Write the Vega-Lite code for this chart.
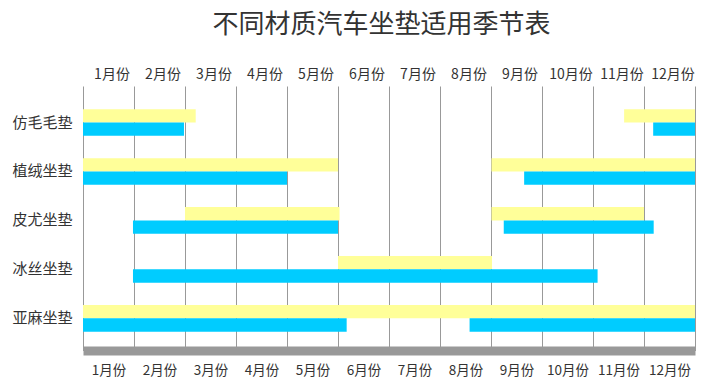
{
  "$schema": "https://vega.github.io/schema/vega-lite/v6.json",
  "width": 612,
  "height": 264.5,
  "autosize": {"type": "none"},
  "padding": {"left": 83, "top": 86, "right": 21, "bottom": 39.5},
  "background": "white",
  "title": {
    "text": "不同材质汽车坐垫适用季节表",
    "font": "Noto Sans CJK SC",
    "fontSize": 26,
    "fontWeight": "normal",
    "color": "#333333",
    "anchor": "middle",
    "dx": -7.5,
    "offset": 29
  },
  "config": {
    "view": {"stroke": null},
    "axis": {"labelFont": "Noto Sans CJK SC", "labelColor": "#333333", "ticks": false, "domain": false, "grid": false, "title": null}
  },
  "data": {
    "values": [
      {"垫": "仿毛毛垫", "类": "黄", "始": 0, "终": 2.21},
      {"垫": "仿毛毛垫", "类": "黄", "始": 10.61, "终": 12},
      {"垫": "仿毛毛垫", "类": "蓝", "始": 0, "终": 1.98},
      {"垫": "仿毛毛垫", "类": "蓝", "始": 11.18, "终": 12},
      {"垫": "植绒坐垫", "类": "黄", "始": 0, "终": 5},
      {"垫": "植绒坐垫", "类": "黄", "始": 8.01, "终": 12},
      {"垫": "植绒坐垫", "类": "蓝", "始": 0, "终": 4},
      {"垫": "植绒坐垫", "类": "蓝", "始": 8.65, "终": 12},
      {"垫": "皮尤坐垫", "类": "黄", "始": 2, "终": 5.03},
      {"垫": "皮尤坐垫", "类": "黄", "始": 8.01, "终": 11},
      {"垫": "皮尤坐垫", "类": "蓝", "始": 0.98, "终": 5},
      {"垫": "皮尤坐垫", "类": "蓝", "始": 8.25, "终": 11.19},
      {"垫": "冰丝坐垫", "类": "黄", "始": 5, "终": 8.02},
      {"垫": "冰丝坐垫", "类": "蓝", "始": 0.98, "终": 10.09},
      {"垫": "亚麻坐垫", "类": "黄", "始": 0, "终": 12},
      {"垫": "亚麻坐垫", "类": "蓝", "始": 0, "终": 5.17},
      {"垫": "亚麻坐垫", "类": "蓝", "始": 7.58, "终": 12}
    ]
  },
  "layer": [
    {
      "mark": {"type": "bar", "cornerRadius": 0},
      "encoding": {
        "x": {
          "field": "始", "type": "quantitative",
          "scale": {"domain": [0, 12], "nice": false, "zero": false},
          "axis": {
            "orient": "top",
            "values": [0, 1, 2, 3, 4, 5, 6, 7, 8, 9, 10, 11, 12],
            "grid": true, "gridColor": "#999999", "gridWidth": 1, "gridOpacity": 1,
            "labelExpr": "datum.value < 12 ? (datum.value + 1) + '月份' : ''",
            "labelOffset": 28.5, "labelAlign": "center", "labelFontSize": 14,
            "labelPadding": 5, "labelOverlap": false, "labelFlush": false, "labelBound": false
          }
        },
        "x2": {"field": "终"},
        "y": {
          "field": "垫", "type": "nominal",
          "sort": ["仿毛毛垫", "植绒坐垫", "皮尤坐垫", "冰丝坐垫", "亚麻坐垫"],
          "scale": {"paddingInner": 0, "paddingOuter": 0.2017, "align": 0.61},
          "axis": {"labelFontSize": 15, "labelPadding": 11}
        },
        "yOffset": {
          "field": "类", "type": "nominal", "sort": ["黄", "蓝"],
          "scale": {"paddingInner": 0, "paddingOuter": 0.84}
        },
        "color": {
          "field": "类", "type": "nominal",
          "scale": {"domain": ["黄", "蓝"], "range": ["#FFFF99", "#00CCFF"]},
          "legend": null
        }
      }
    },
    {
      "mark": {"type": "bar", "opacity": 0},
      "encoding": {
        "x": {
          "field": "始", "type": "quantitative",
          "scale": {"domain": [0, 12], "nice": false, "zero": false},
          "axis": {
            "orient": "bottom",
            "values": [0.5, 1.5, 2.5, 3.5, 4.5, 5.5, 6.5, 7.5, 8.5, 9.5, 10.5, 11.5],
            "labelExpr": "floor(datum.value) + 1 + '月份'",
            "labelAlign": "center", "labelFontSize": 13.5, "labelPadding": 13,
            "domain": true, "domainColor": "#999999", "domainWidth": 9, "domainCap": "butt",
            "labelOverlap": false, "labelFlush": false, "labelBound": false
          }
        },
        "x2": {"field": "终"},
        "y": {
          "field": "垫", "type": "nominal",
          "sort": ["仿毛毛垫", "植绒坐垫", "皮尤坐垫", "冰丝坐垫", "亚麻坐垫"],
          "axis": {"labelFontSize": 15, "labelPadding": 11}
        },
        "yOffset": {"field": "类", "type": "nominal", "sort": ["黄", "蓝"]}
      }
    }
  ],
  "resolve": {"axis": {"x": "independent"}}
}
